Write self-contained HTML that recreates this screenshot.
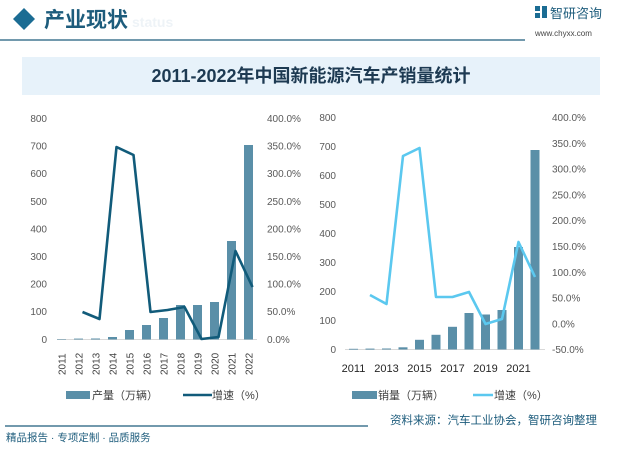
<!DOCTYPE html>
<html><head><meta charset="utf-8"><style>
body{margin:0;background:#fff;}
svg text{font-family:"Liberation Sans","Noto Sans CJK SC",sans-serif;}
</style></head><body>
<svg width="622" height="444" viewBox="0 0 622 444" xmlns="http://www.w3.org/2000/svg">
<rect width="622" height="444" fill="#fff"/>
<!-- header -->
<polygon points="24,8 35,19 24,30 13,19" fill="#1b6c93"/>
<text x="44" y="27" font-size="21" fill="#1d5c7c" font-family="Noto Serif CJK SC,serif" font-weight="bold">产业现状</text>
<text x="132" y="27" font-size="14" fill="#eef3f7" font-weight="bold">status</text>
<line x1="0" y1="40" x2="525" y2="40" stroke="#1d5c7c" stroke-width="1.2"/>
<rect x="535" y="6" width="5" height="5" fill="#1b6c93"/><rect x="542" y="6" width="5" height="12" fill="#1b6c93"/><rect x="535" y="13" width="5" height="5" fill="#1b6c93"/>
<text x="550" y="18" font-size="13" fill="#1d5c7c">智研咨询</text>
<text x="535" y="36" font-size="8" fill="#444" font-family="Liberation Mono,monospace">www.chyxx.com</text>
<rect x="22" y="57" width="578" height="38" fill="#e7f2fa"/>
<text x="311" y="82" font-size="18" fill="#1d3a52" text-anchor="middle" font-family="Liberation Serif,Noto Serif CJK SC,serif" font-weight="bold">2011-2022年中国新能源汽车产销量统计</text>

<!-- left chart -->
<g font-size="10" fill="#595959">
<text x="47" y="122" text-anchor="end">800</text>
<text x="47" y="149.6" text-anchor="end">700</text>
<text x="47" y="177.2" text-anchor="end">600</text>
<text x="47" y="204.8" text-anchor="end">500</text>
<text x="47" y="232.4" text-anchor="end">400</text>
<text x="47" y="260" text-anchor="end">300</text>
<text x="47" y="287.6" text-anchor="end">200</text>
<text x="47" y="315.2" text-anchor="end">100</text>
<text x="47" y="343" text-anchor="end">0</text>
<text x="267" y="122">400.0%</text>
<text x="267" y="149.6">350.0%</text>
<text x="267" y="177.2">300.0%</text>
<text x="267" y="204.8">250.0%</text>
<text x="267" y="232.4">200.0%</text>
<text x="267" y="260">150.0%</text>
<text x="267" y="287.6">100.0%</text>
<text x="267" y="315.2">50.0%</text>
<text x="267" y="343">0.0%</text>
</g>
<line x1="57" y1="339.5" x2="257" y2="339.5" stroke="#d9d9d9"/>
<g fill="#5a8fa8">
<rect x="57" y="339" width="9" height="0.5"/>
<rect x="74" y="338.6" width="9" height="0.9"/>
<rect x="91" y="338.5" width="9" height="1"/>
<rect x="108" y="337" width="9" height="2.5"/>
<rect x="125" y="330" width="9" height="9.5"/>
<rect x="142" y="325" width="9" height="14.5"/>
<rect x="159" y="318" width="9" height="21.5"/>
<rect x="176" y="305" width="9" height="34.5"/>
<rect x="193" y="305" width="9" height="34.5"/>
<rect x="210" y="302" width="9" height="37.5"/>
<rect x="227" y="241" width="9" height="98.5"/>
<rect x="244" y="145" width="9" height="194.5"/>
</g>
<polyline points="82.5,312 99.5,319 116.5,147 133.5,155 150.5,312 167.5,310 184.5,307 201.5,339 218.5,337 235.5,251 252.5,287" fill="none" stroke="#115b7a" stroke-width="2.6" stroke-linejoin="round"/>
<g font-size="10" fill="#404040">
<text transform="translate(65.5,375) rotate(-90)">2011</text>
<text transform="translate(82.5,375) rotate(-90)">2012</text>
<text transform="translate(99.5,375) rotate(-90)">2013</text>
<text transform="translate(116.5,375) rotate(-90)">2014</text>
<text transform="translate(133.5,375) rotate(-90)">2015</text>
<text transform="translate(150.5,375) rotate(-90)">2016</text>
<text transform="translate(167.5,375) rotate(-90)">2017</text>
<text transform="translate(184.5,375) rotate(-90)">2018</text>
<text transform="translate(201.5,375) rotate(-90)">2019</text>
<text transform="translate(218.5,375) rotate(-90)">2020</text>
<text transform="translate(235.5,375) rotate(-90)">2021</text>
<text transform="translate(252.5,375) rotate(-90)">2022</text>
</g>
<rect x="66" y="391" width="24" height="8" fill="#5a8fa8"/>
<text x="92" y="399" font-size="11" fill="#404040">产量（万辆）</text>
<line x1="183" y1="395" x2="212" y2="395" stroke="#115b7a" stroke-width="2.6"/>
<text x="212" y="399" font-size="11" fill="#404040">增速（%）</text>

<!-- right chart -->
<g font-size="10" fill="#595959">
<text x="336" y="121" text-anchor="end">800</text>
<text x="336" y="150" text-anchor="end">700</text>
<text x="336" y="179" text-anchor="end">600</text>
<text x="336" y="208" text-anchor="end">500</text>
<text x="336" y="237" text-anchor="end">400</text>
<text x="336" y="266" text-anchor="end">300</text>
<text x="336" y="295" text-anchor="end">200</text>
<text x="336" y="324" text-anchor="end">100</text>
<text x="336" y="353" text-anchor="end">0</text>
<text x="552" y="121">400.0%</text>
<text x="552" y="146.8">350.0%</text>
<text x="552" y="172.6">300.0%</text>
<text x="552" y="198.4">250.0%</text>
<text x="552" y="224.2">200.0%</text>
<text x="552" y="250">150.0%</text>
<text x="552" y="275.8">100.0%</text>
<text x="552" y="301.6">50.0%</text>
<text x="552" y="327.4">0.0%</text>
<text x="552" y="353">-50.0%</text>
</g>
<line x1="345" y1="349.5" x2="545" y2="349.5" stroke="#d9d9d9"/>
<g fill="#5a8fa8">
<rect x="349" y="348.8" width="9" height="0.8"/>
<rect x="365.5" y="348.6" width="9" height="1"/>
<rect x="382" y="348.5" width="9" height="1"/>
<rect x="398.5" y="347.3" width="9" height="2.2"/>
<rect x="415" y="339.8" width="9" height="9.7"/>
<rect x="431.5" y="334.8" width="9" height="14.7"/>
<rect x="448" y="326.8" width="9" height="22.7"/>
<rect x="464.5" y="313" width="9" height="36.5"/>
<rect x="481" y="314.5" width="9" height="35"/>
<rect x="497.5" y="310" width="9" height="39.5"/>
<rect x="514" y="247" width="9" height="102.5"/>
<rect x="530.5" y="150" width="9" height="199.5"/>
</g>
<polyline points="370,295 386.5,304 403,156 419.5,148 436,297 452.5,297 469,292 485.5,324 502,319 518.5,242 535,277" fill="none" stroke="#5bc8ef" stroke-width="2.6" stroke-linejoin="round"/>
<g font-size="11" fill="#262626" text-anchor="middle">
<text x="353.5" y="372">2011</text>
<text x="386.5" y="372">2013</text>
<text x="419.5" y="372">2015</text>
<text x="452.5" y="372">2017</text>
<text x="485.5" y="372">2019</text>
<text x="518.5" y="372">2021</text>
</g>
<rect x="352" y="391" width="25" height="8" fill="#5a8fa8"/>
<text x="378" y="399" font-size="11" fill="#404040">销量（万辆）</text>
<line x1="473" y1="395" x2="493" y2="395" stroke="#5bc8ef" stroke-width="2.6"/>
<text x="494" y="399" font-size="11" fill="#404040">增速（%）</text>

<!-- footer -->
<line x1="5" y1="426" x2="368" y2="426" stroke="#1d5c7c" stroke-width="1.2"/>
<text x="390" y="424" font-size="11.5" fill="#1d5c7c">资料来源：汽车工业协会，智研咨询整理</text>
<text x="6" y="441" font-size="10.5" fill="#1d5c7c">精品报告 · 专项定制 · 品质服务</text>
</svg>
</body></html>
